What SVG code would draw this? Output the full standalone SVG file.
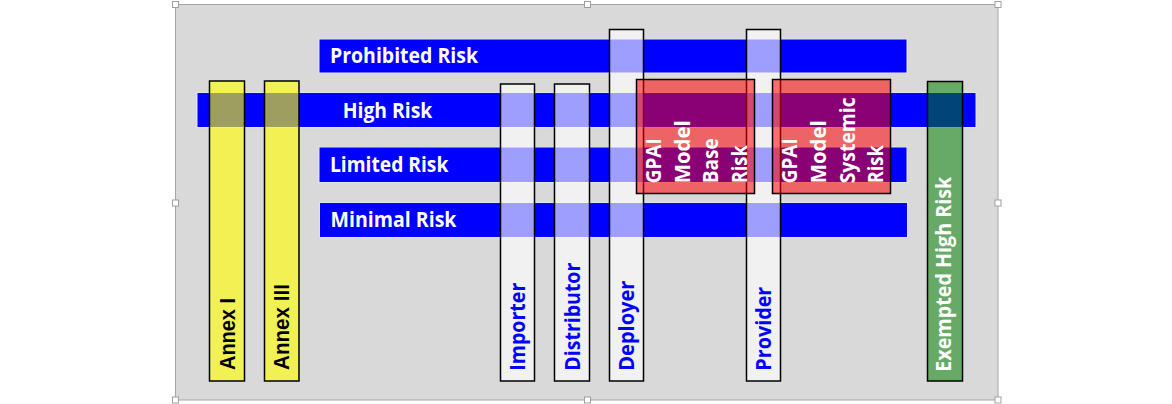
<svg xmlns="http://www.w3.org/2000/svg" width="1172" height="404" viewBox="0 0 1172 404">
<style>
.bar{fill:#0000ff;stroke:#e4e4ee;stroke-width:1}
.col{fill:#ffffff;fill-opacity:0.62;stroke:#000;stroke-width:1.5}
.yel{fill:#ffff00;fill-opacity:0.62;stroke:#000;stroke-width:1.5}
.grn{fill:#008000;fill-opacity:0.53;stroke:#000;stroke-width:1.5}
.red{fill:#ff0000;fill-opacity:0.54;stroke:#000;stroke-width:1.5}
.ht{font-family:"Open Sans","DejaVu Sans",sans-serif;font-weight:700;font-size:21px;fill:#fff}
.vt{font-family:"Open Sans","DejaVu Sans",sans-serif;font-weight:700;font-size:21px;fill:#0000ff}
.gt{font-family:"Open Sans","DejaVu Sans",sans-serif;font-weight:700;font-size:21px;fill:#fff}
.at{font-family:"Liberation Sans",Arial,sans-serif;font-weight:700;font-size:22px;fill:#000}
.hd{fill:#fff;stroke:#a0a0a0;stroke-width:1}
</style>
<rect x="0" y="0" width="1172" height="404" fill="#fff"/>
<g id="frame">
<rect x="175.5" y="4.5" width="822.5" height="395.5" fill="#d9d9d9" stroke="#a6a6a6" stroke-width="1"/>
</g>
<g id="prohibited-risk">
<rect class="bar" x="319" y="39" width="588" height="34"/>
<text class="ht" x="330" y="62.7" textLength="148" lengthAdjust="spacingAndGlyphs">Prohibited Risk</text>
</g>
<g id="high-risk">
<rect class="bar" x="197" y="92.5" width="779" height="35"/>
<text class="ht" x="342.7" y="118.3" textLength="89.6" lengthAdjust="spacingAndGlyphs">High Risk</text>
</g>
<g id="limited-risk">
<rect class="bar" x="319" y="147" width="588" height="35.5"/>
<text class="ht" x="330" y="172.3" textLength="118.3" lengthAdjust="spacingAndGlyphs">Limited Risk</text>
</g>
<g id="minimal-risk">
<rect class="bar" x="319.5" y="202.5" width="588" height="35"/>
<text class="ht" x="330.5" y="227.3" textLength="126" lengthAdjust="spacingAndGlyphs">Minimal Risk</text>
</g>
<g id="importer">
<rect class="col" x="500.5" y="84" width="34" height="297"/>
<text class="vt" transform="translate(525,370.7) rotate(-90)" textLength="88" lengthAdjust="spacingAndGlyphs">Importer</text>
</g>
<g id="distributor">
<rect class="col" x="554.5" y="84" width="35" height="297"/>
<text class="vt" transform="translate(579.5,370.7) rotate(-90)" textLength="108" lengthAdjust="spacingAndGlyphs">Distributor</text>
</g>
<g id="deployer">
<rect class="col" x="609.5" y="29.5" width="34" height="351.5"/>
<text class="vt" transform="translate(633.5,370.7) rotate(-90)" textLength="90" lengthAdjust="spacingAndGlyphs">Deployer</text>
</g>
<g id="provider">
<rect class="col" x="746.5" y="29.5" width="34" height="351.5"/>
<text class="vt" transform="translate(770.5,370.7) rotate(-90)" textLength="84" lengthAdjust="spacingAndGlyphs">Provider</text>
</g>
<g id="gpai-base">
<rect class="red" x="636.5" y="79.5" width="118" height="114"/>
<text class="gt" transform="translate(661,183.3) rotate(-90)" textLength="45" lengthAdjust="spacingAndGlyphs">GPAI</text>
<text class="gt" transform="translate(689.5,183.3) rotate(-90)" textLength="63" lengthAdjust="spacingAndGlyphs">Model</text>
<text class="gt" transform="translate(718,183.3) rotate(-90)" textLength="45" lengthAdjust="spacingAndGlyphs">Base</text>
<text class="gt" transform="translate(746.5,183.3) rotate(-90)" textLength="38" lengthAdjust="spacingAndGlyphs">Risk</text>
</g>
<g id="gpai-systemic">
<rect class="red" x="772.5" y="79.5" width="118" height="114"/>
<text class="gt" transform="translate(797,183.3) rotate(-90)" textLength="45" lengthAdjust="spacingAndGlyphs">GPAI</text>
<text class="gt" transform="translate(826,183.3) rotate(-90)" textLength="63" lengthAdjust="spacingAndGlyphs">Model</text>
<text class="gt" transform="translate(854.5,183.3) rotate(-90)" textLength="86" lengthAdjust="spacingAndGlyphs">Systemic</text>
<text class="gt" transform="translate(883,183.3) rotate(-90)" textLength="38" lengthAdjust="spacingAndGlyphs">Risk</text>
</g>
<g id="annex-i">
<rect class="yel" x="209.5" y="81" width="35" height="300"/>
<text class="at" transform="translate(235,370) rotate(-90)" textLength="72" lengthAdjust="spacingAndGlyphs">Annex I</text>
</g>
<g id="annex-iii">
<rect class="yel" x="264.5" y="81" width="34.5" height="300"/>
<text class="at" transform="translate(289.3,370) rotate(-90)" textLength="86" lengthAdjust="spacingAndGlyphs">Annex III</text>
</g>
<g id="exempted-high-risk">
<rect class="grn" x="927.5" y="81.5" width="35" height="299.5"/>
<text class="gt" transform="translate(951,371.7) rotate(-90)" textLength="195" lengthAdjust="spacingAndGlyphs">Exempted High Risk</text>
</g>
<g id="connectors"/>
<g id="handles">
<rect class="hd" x="172.5" y="1.5" width="6" height="6"/>
<rect class="hd" x="584.5" y="1.5" width="6" height="6"/>
<rect class="hd" x="995" y="1.5" width="6" height="6"/>
<rect class="hd" x="172.5" y="200" width="6" height="6"/>
<rect class="hd" x="995" y="200" width="6" height="6"/>
<rect class="hd" x="172.5" y="397" width="6" height="6"/>
<rect class="hd" x="584.5" y="397" width="6" height="6"/>
<rect class="hd" x="995" y="397" width="6" height="6"/>
</g>
</svg>
